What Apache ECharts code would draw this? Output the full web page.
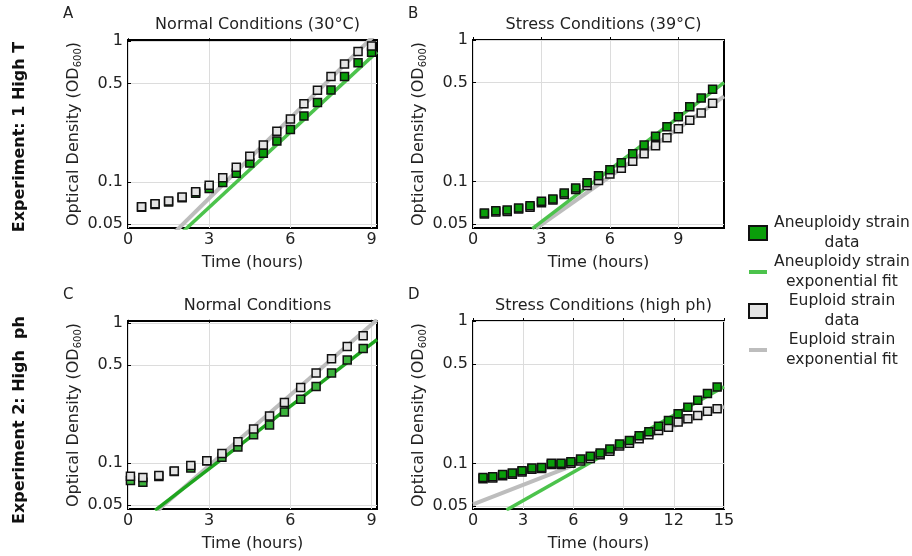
<!DOCTYPE html>
<html>
<head>
<meta charset="utf-8">
<script src="https://cdn.jsdelivr.net/npm/echarts@6/dist/echarts.min.js"></script>
<style>
html, body { margin: 0; padding: 0; background: #fff; }
#main { width: 912px; height: 556px; }
</style>
</head>
<body>
<div id="main"></div>
<script>
// ---- data (OD600, linear units) ----
var timesA = [0.5, 1, 1.5, 2, 2.5, 3, 3.5, 4, 4.5, 5, 5.5, 6, 6.5, 7, 7.5, 8, 8.5, 9];
var aneuA = [0.066, 0.069, 0.072, 0.077, 0.083, 0.0896, 0.099, 0.115, 0.136, 0.16, 0.195, 0.236, 0.294, 0.367, 0.45, 0.561, 0.704, 0.835];
var euA = [0.0665, 0.070, 0.073, 0.078, 0.085, 0.0946, 0.107, 0.127, 0.152, 0.183, 0.229, 0.28, 0.359, 0.448, 0.561, 0.688, 0.844, 0.925];
var fitAneuA = [[1.9, 0.042], [9.2, 0.84]];
var fitEuA = [[1.6, 0.0415], [9.2, 1.15]];

var timesB = [0.5, 1, 1.5, 2, 2.5, 3, 3.5, 4, 4.5, 5, 5.5, 6, 6.5, 7, 7.5, 8, 8.5, 9, 9.5, 10, 10.5];
var aneuB = [0.060, 0.0623, 0.063, 0.065, 0.0676, 0.0725, 0.0754, 0.083, 0.090, 0.098, 0.11, 0.121, 0.136, 0.157, 0.181, 0.209, 0.244, 0.287, 0.338, 0.389, 0.449];
var euB = [0.059, 0.061, 0.0615, 0.064, 0.066, 0.071, 0.074, 0.081, 0.088, 0.094, 0.1017, 0.113, 0.124, 0.139, 0.157, 0.179, 0.204, 0.236, 0.271, 0.305, 0.357];
var fitAneuB = [[2.6, 0.0465], [11, 0.5]];
var fitEuB = [[2.75, 0.0465], [11, 0.40]];

var timesC = [0.09, 0.55, 1.14, 1.71, 2.32, 2.91, 3.47, 4.06, 4.64, 5.23, 5.78, 6.38, 6.95, 7.52, 8.10, 8.69];
var aneuC = [0.075, 0.073, 0.080, 0.087, 0.092, 0.104, 0.110, 0.130, 0.159, 0.187, 0.231, 0.285, 0.352, 0.438, 0.543, 0.655];
var euC = [0.0806, 0.079, 0.0815, 0.0876, 0.0962, 0.104, 0.117, 0.142, 0.175, 0.216, 0.27, 0.346, 0.438, 0.555, 0.677, 0.808];
var fitAneuC = [[1.0, 0.046], [9.2, 0.76]];
var fitEuC = [[1.1, 0.046], [9.2, 1.05]];

var timesD = [0.6, 1.18, 1.77, 2.35, 2.93, 3.52, 4.1, 4.68, 5.26, 5.85, 6.43, 7.01, 7.6, 8.18, 8.76, 9.35, 9.93, 10.51, 11.09, 11.68, 12.26, 12.84, 13.43, 14.01, 14.59];
var aneuD = [0.0796, 0.0805, 0.0836, 0.0855, 0.0888, 0.0927, 0.0937, 0.1, 0.1, 0.1027, 0.1073, 0.112, 0.1183, 0.1262, 0.137, 0.1445, 0.156, 0.1665, 0.1825, 0.2, 0.223, 0.248, 0.277, 0.309, 0.344];
var euD = [0.078, 0.079, 0.082, 0.084, 0.087, 0.091, 0.092, 0.098, 0.098, 0.1, 0.104, 0.108, 0.115, 0.1215, 0.1326, 0.1385, 0.1486, 0.159, 0.170, 0.1796, 0.195, 0.206, 0.217, 0.232, 0.242];
var fitAneuD = [[2.0, 0.047], [15, 0.345]];
var fitEuD = [[0, 0.0516], [15, 0.25]];

var yTicks = [0.05, 0.1, 0.5, 1];
var xTicksShort = [0, 3, 6, 9];
var xTicksLong = [0, 3, 6, 9, 12, 15];

var seriesNames = ['Aneuploidy strain data', 'Aneuploidy strain exponential fit', 'Euploid strain data', 'Euploid strain exponential fit'];
var legendLines = [['Aneuploidy strain', 'data'], ['Aneuploidy strain', 'exponential fit'], ['Euploid strain', 'data'], ['Euploid strain', 'exponential fit']];

var FONT = 'DejaVu Sans';
var TXT = '#222';
var LINE_ICON = 'path://M0,0H18V4H0Z';

var panels = [
    { letter: 'A', title: 'Normal Conditions (30\u00b0C)', grid: { left: 128, top: 40, width: 249, height: 188 },
      xMax: 9.2, xTicks: xTicksShort, yMin: 0.047, yMax: 1.02,
      times: timesA, aneu: aneuA, eu: euA, fitAneu: fitAneuA, fitEu: fitEuA,
      greenTop: false, dotGreen: '#0a9e0a', lineGreen: '#4cc34c' },
    { letter: 'B', title: 'Stress Conditions (39\u00b0C)', grid: { left: 473, top: 40, width: 251, height: 188 },
      xMax: 11, xTicks: xTicksShort, yMin: 0.047, yMax: 1.0,
      times: timesB, aneu: aneuB, eu: euB, fitAneu: fitAneuB, fitEu: fitEuB,
      greenTop: true, dotGreen: '#0a9e0a', lineGreen: '#4cc34c' },
    { letter: 'C', title: 'Normal Conditions', grid: { left: 128, top: 321, width: 249, height: 188 },
      xMax: 9.2, xTicks: xTicksShort, yMin: 0.047, yMax: 1.03,
      times: timesC, aneu: aneuC, eu: euC, fitAneu: fitAneuC, fitEu: fitEuC,
      greenTop: false, dotGreen: '#3cb43c', lineGreen: '#1ea51e' },
    { letter: 'D', title: 'Stress Conditions (high ph)', grid: { left: 473, top: 321, width: 251, height: 188 },
      xMax: 15, xTicks: xTicksLong, yMin: 0.0478, yMax: 1.0,
      times: timesD, aneu: aneuD, eu: euD, fitAneu: fitAneuD, fitEu: fitEuD,
      greenTop: true, dotGreen: '#0a9e0a', lineGreen: '#4cc34c' }
];

function lg(v) { return Math.log10(v); }

var grids = [], xAxes = [], yAxes = [], series = [], titles = [];

panels.forEach(function (p, i) {
    grids.push({
        left: p.grid.left, top: p.grid.top, width: p.grid.width, height: p.grid.height,
        show: true, borderColor: '#000', borderWidth: 2, backgroundColor: 'transparent'
    });
    xAxes.push({
        gridIndex: i, type: 'value', min: 0, max: p.xMax,
        name: 'Time (hours)', nameLocation: 'middle', nameGap: 27,
        nameTextStyle: { fontFamily: FONT, fontSize: 16, color: TXT },
        axisLine: { show: false },
        axisTick: { show: true, inside: true, length: 3, customValues: p.xTicks, lineStyle: { color: '#000' } },
        axisLabel: { customValues: p.xTicks, margin: 4, fontFamily: FONT, fontSize: 16, color: TXT },
        splitLine: { show: true, lineStyle: { color: '#dcdcdc', width: 1 } }
    });
    yAxes.push({
        gridIndex: i, type: 'value', min: lg(p.yMin), max: lg(p.yMax),
        name: 'Optical Density (OD{sub|600})', nameLocation: 'middle', nameGap: 44, nameRotate: 90,
        nameTextStyle: {
            fontFamily: FONT, fontSize: 16, color: TXT, lineHeight: 20,
            rich: { sub: { fontFamily: FONT, fontSize: 10, color: TXT, verticalAlign: 'bottom', lineHeight: 12 } }
        },
        axisLine: { show: false },
        axisTick: { show: true, inside: true, length: 3, customValues: yTicks.map(lg), lineStyle: { color: '#000' } },
        axisLabel: {
            customValues: yTicks.map(lg), margin: 5, fontFamily: FONT, fontSize: 16, color: TXT,
            formatter: function (v) { return String(+Math.pow(10, v).toPrecision(2)); }
        },
        splitLine: { show: true, lineStyle: { color: '#dcdcdc', width: 1 } }
    });

    var zGreen = p.greenTop ? 5 : 4;
    var zGray = p.greenTop ? 4 : 5;

    series.push({
        name: seriesNames[1], type: 'line', xAxisIndex: i, yAxisIndex: i, z: 3,
        data: p.fitAneu.map(function (d) { return [d[0], lg(d[1])]; }),
        symbol: 'none', clip: true, silent: true,
        lineStyle: { color: p.lineGreen, width: 3.5 }, itemStyle: { color: '#4cc34c' }
    });
    series.push({
        name: seriesNames[3], type: 'line', xAxisIndex: i, yAxisIndex: i, z: 2,
        data: p.fitEu.map(function (d) { return [d[0], lg(d[1])]; }),
        symbol: 'none', clip: true, silent: true,
        lineStyle: { color: '#bdbdbd', width: 4 }, itemStyle: { color: '#bdbdbd' }
    });
    series.push({
        name: seriesNames[0], type: 'scatter', xAxisIndex: i, yAxisIndex: i, z: zGreen,
        data: p.times.map(function (t, k) { return [t, lg(p.aneu[k])]; }),
        symbol: 'rect', symbolSize: 8, silent: true,
        itemStyle: { color: p.dotGreen, borderColor: '#111', borderWidth: 1.5, opacity: 1 }
    });
    series.push({
        name: seriesNames[2], type: 'scatter', xAxisIndex: i, yAxisIndex: i, z: zGray,
        data: p.times.map(function (t, k) { return [t, lg(p.eu[k])]; }),
        symbol: 'rect', symbolSize: 8, silent: true,
        itemStyle: { color: '#e4e4e4', borderColor: '#111', borderWidth: 1.5, opacity: 1 }
    });

    titles.push({
        text: p.title, left: p.grid.left + p.grid.width / 2, top: p.grid.top - 28, textAlign: 'center',
        textStyle: { fontFamily: FONT, fontSize: 16, fontWeight: 'normal', color: TXT }
    });
    titles.push({
        text: p.letter, left: p.grid.left - 70, top: p.grid.top - 38,
        textStyle: { fontFamily: FONT, fontSize: 15, fontWeight: 'normal', color: TXT }
    });
});

var chart = echarts.init(document.getElementById('main'));
var option = {
    animation: false,
    backgroundColor: '#fff',
    title: titles,
    grid: grids,
    xAxis: xAxes,
    yAxis: yAxes,
    legend: {
        orient: 'vertical', left: 743, top: 210,
        itemWidth: 18, itemHeight: 14, itemGap: 3,
        selectedMode: false,
        data: [
            { name: seriesNames[0], icon: 'rect' },
            { name: seriesNames[1], icon: LINE_ICON, itemStyle: { color: '#4cc34c', borderWidth: 0 } },
            { name: seriesNames[2], icon: 'rect' },
            { name: seriesNames[3], icon: LINE_ICON, itemStyle: { color: '#bdbdbd', borderWidth: 0 } }
        ],
        formatter: function (name) {
            var l = legendLines[seriesNames.indexOf(name)];
            return '{t|' + l[0] + '}\n{t|' + l[1] + '}';
        },
        textStyle: {
            rich: { t: { fontFamily: FONT, fontSize: 15.5, lineHeight: 20, color: TXT, width: 140, align: 'center' } }
        }
    },
    graphic: [
        { type: 'text', x: 20, y: 137, rotation: Math.PI / 2,
          style: { text: 'Experiment: 1 High T', fontFamily: FONT, fontSize: 16, fontWeight: 'bold', fill: '#111', textAlign: 'center', textVerticalAlign: 'middle' } },
        { type: 'text', x: 20, y: 420, rotation: Math.PI / 2,
          style: { text: 'Experiment 2: High  ph', fontFamily: FONT, fontSize: 16, fontWeight: 'bold', fill: '#111', textAlign: 'center', textVerticalAlign: 'middle' } }
    ],
    series: series
};
chart.setOption(option);
</script>
</body>
</html>
